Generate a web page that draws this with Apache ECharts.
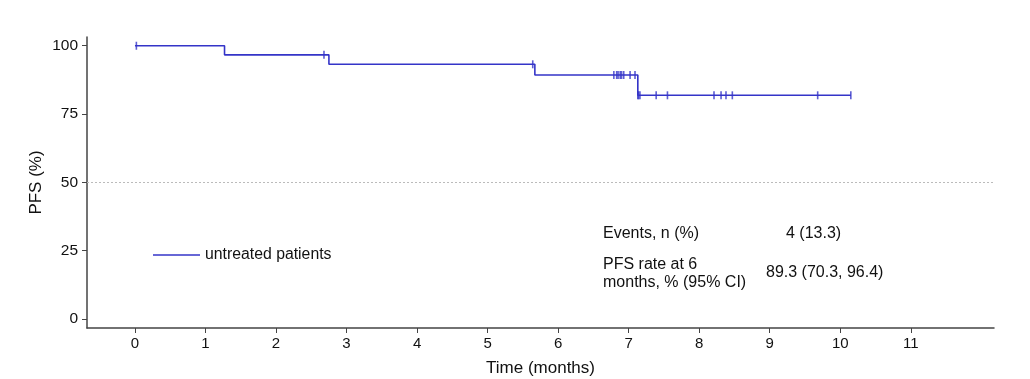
<!DOCTYPE html>
<html>
<head>
<meta charset="utf-8">
<script src="https://cdn.jsdelivr.net/npm/echarts@6/dist/echarts.min.js"></script>
<style>html,body{margin:0;padding:0;background:#fff;}#c{width:1030px;height:379px;}</style>
</head>
<body>
<div id="c"></div>
<script>
// Kaplan-Meier step points (time in months, PFS %)
const stepTimes = [0, 1.27, 2.75, 5.67, 7.13, 10.15];
const stepValues = [100, 96.67, 93.21, 89.3, 81.86, 81.86];
// censored observations (time in months)
const censorTimes = [0.02, 2.68, 5.64, 6.79, 6.83, 6.85, 6.88, 6.90, 6.93, 7.02, 7.09,
  7.13, 7.14, 7.16, 7.39, 7.55, 8.21, 8.31, 8.38, 8.47, 9.68, 10.15];
const xTicks = [0,1,2,3,4,5,6,7,8,9,10,11];
const yTicks = [0,25,50,75,100];
const seriesName = 'untreated patients';
const tableRows = [
  ['Events, n (%)', '4 (13.3)'],
  ['PFS rate at 6\nmonths, % (95% CI)', '89.3 (70.3, 96.4)']
];

function survAt(t){
  let v = stepValues[0];
  for (let i = 0; i < stepTimes.length; i++) { if (stepTimes[i] <= t) v = stepValues[i]; }
  return v;
}
const lineColor = '#3434c8';
const axisColor = '#444';
const font = 'Liberation Sans, Arial, sans-serif';

const chart = echarts.init(document.getElementById('c'), null, {renderer:'canvas'});
chart.setOption({
  animation: false,
  backgroundColor: '#fff',
  textStyle: {fontFamily: font},
  grid: {left: 87, right: 36, top: 37, bottom: 51, containLabel: false, outerBoundsMode: 'none'},
  legend: {
    data: [seriesName],
    left: 148, top: 242,
    itemWidth: 47, itemHeight: 16, itemGap: 8,
    icon: 'path://M0,0H47V1.5H0Z',
    textStyle: {fontSize: 15.8, color: '#111', fontFamily: font}
  },
  xAxis: {
    type: 'value', min: -0.68, max: 12.18,
    name: 'Time (months)', nameLocation: 'middle', nameGap: 32, nameMoveOverlap: false,
    nameTextStyle: {fontSize: 17, color: '#111', fontFamily: font},
    axisLine: {show: true, onZero: false, lineStyle: {color: axisColor, width: 1.5}},
    axisTick: {show: true, length: 5, customValues: xTicks, lineStyle: {color: axisColor, width: 1}},
    axisLabel: {customValues: xTicks, fontSize: 15, color: '#111', margin: 8, fontFamily: font},
    splitLine: {show: false}
  },
  yAxis: {
    type: 'value', min: -3.3, max: 103.2,
    name: 'PFS (%)', nameLocation: 'middle', nameGap: 42, nameRotate: 90, nameMoveOverlap: false,
    nameTextStyle: {fontSize: 17, color: '#111', fontFamily: font},
    axisLine: {show: true, onZero: false, lineStyle: {color: axisColor, width: 1.5}},
    axisTick: {show: true, length: 5, customValues: yTicks, lineStyle: {color: axisColor, width: 1}},
    axisLabel: {customValues: yTicks, fontSize: 15.5, color: '#111', margin: 9, fontFamily: font},
    splitLine: {show: false}
  },
  series: [
    {
      name: seriesName, type: 'line', step: 'end',
      data: stepTimes.map((t, i) => [t, stepValues[i]]),
      showSymbol: false, symbol: 'none',
      lineStyle: {color: lineColor, width: 1.6},
      itemStyle: {color: lineColor},
      markLine: {
        silent: true, symbol: 'none', label: {show: false},
        lineStyle: {color: '#bbb', type: [2, 2], width: 1},
        data: [{yAxis: 50}]
      },
      z: 3
    },
    {
      name: 'censored', type: 'scatter',
      data: censorTimes.map(t => [t, survAt(t)]),
      symbol: 'rect', symbolSize: [1.6, 8],
      itemStyle: {color: lineColor},
      z: 4
    }
  ],
  graphic: [
    {type: 'text', left: 603, top: 226, style: {text: tableRows[0][0], fontSize: 16, fill: '#111', fontFamily: font}},
    {type: 'text', left: 786, top: 226, style: {text: tableRows[0][1], fontSize: 16, fill: '#111', fontFamily: font}},
    {type: 'text', left: 603, top: 255, style: {text: tableRows[1][0], fontSize: 16, lineHeight: 18.5, fill: '#111', fontFamily: font}},
    {type: 'text', left: 766, top: 265, style: {text: tableRows[1][1], fontSize: 16, fill: '#111', fontFamily: font}}
  ]
});
</script>
</body>
</html>
